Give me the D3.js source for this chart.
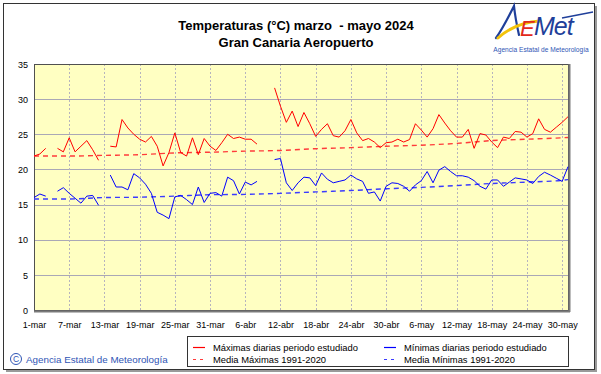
<!DOCTYPE html>
<html><head><meta charset="utf-8">
<script src="https://cdn.jsdelivr.net/npm/d3@7"></script>
<style>
html,body{margin:0;padding:0;background:#fff;}
svg{display:block;font-family:Arial,"Liberation Sans",sans-serif;}
</style></head>
<body><svg id="c" width="601" height="374"></svg>
<script>
// ---- data ----
const tickLabels = ["1-mar","7-mar","13-mar","19-mar","25-mar","31-mar","6-abr","12-abr","18-abr","24-abr","30-abr","6-may","12-may","18-may","24-may","30-may"];
const tickDays = [0,6,12,18,24,30,36,42,48,54,60,66,72,78,84,90];
const yTicks = [0,5,10,15,20,25,30,35];
// daily maxima, index 0 = 1-mar ... 91 = 31-may (null = missing)
const maxDaily = [21.9,22.2,23.0,null,23.0,22.5,24.5,22.5,23.3,24.1,22.8,21.3,null,23.3,23.2,27.1,25.9,25.0,24.3,23.9,24.7,23.3,20.5,22.4,25.2,22.4,21.9,24.5,22.1,24.4,
  23.3,22.7,23.8,25.0,24.4,24.6,24.3,24.3,23.6,null,null,31.6,29.0,26.7,28.3,26.1,28.1,26.5,24.7,25.7,26.5,24.8,24.6,25.5,27.1,25.2,24.1,24.4,23.9,23.1,
  23.8,23.9,24.3,23.9,24.25,26.5,25.6,24.6,25.8,27.8,26.6,25.5,24.6,24.6,25.7,23.0,25.1,24.9,23.9,23.1,24.6,24.4,25.4,25.3,24.6,25.1,27.2,25.7,25.3,26.0,26.7,27.5];
const minDaily = [16.0,16.5,16.2,null,16.9,17.4,16.6,15.9,15.2,16.2,16.3,14.9,null,19.2,17.5,17.5,17.1,19.4,18.8,17.9,16.6,13.9,13.5,13.0,16.1,16.3,15.7,15.0,17.5,15.3,
  16.6,16.7,16.2,18.9,18.4,16.5,18.2,17.8,18.3,null,null,21.4,21.55,18.1,17.0,18.1,18.9,18.8,17.7,19.5,18.6,18.1,18.3,18.5,19.2,18.65,18.3,16.6,16.8,15.5,
  17.6,18.1,18.0,17.6,16.9,17.8,18.4,19.7,18.1,19.9,20.4,19.7,19.1,19.1,18.9,18.4,17.6,17.2,18.5,18.5,17.6,18.2,18.8,18.65,18.5,18.0,19.0,19.6,19.2,18.75,18.3,20.4];
// normals 1991-2020 read at these days
const normDays = [0,6,12,18,24,30,36,42,48,54,60,66,72,78,84,90,91];
const normMax = [21.9,21.9,22.0,22.1,22.35,22.45,22.6,22.7,22.95,23.1,23.3,23.45,23.7,24.1,24.3,24.5,24.55];
const normMin = [15.8,15.8,16.0,16.05,16.2,16.4,16.45,16.6,16.8,17.0,17.25,17.45,17.7,18.0,18.2,18.45,18.55];
const title1 = "Temperaturas (°C) marzo  - mayo 2024";
const title2 = "Gran Canaria Aeropuerto";
const legendItems = [
  {label:"Máximas diarias periodo estudiado", color:"#ff0000", dash:null},
  {label:"Mínimas diarias periodo estudiado", color:"#0000ff", dash:null},
  {label:"Media Máximas 1991-2020", color:"#ff3b3b", dash:"3,4"},
  {label:"Media Mínimas 1991-2020", color:"#3b3bff", dash:"3,4"}
];

const svg = d3.select("#c");
// outer frame with shadow
svg.append("rect").attr("x",6).attr("y",6).attr("width",591).attr("height",366).attr("fill","#9a9a9a");
svg.append("rect").attr("x",3.5).attr("y",3.5).attr("width",591).attr("height",366).attr("fill","#fff").attr("stroke","#333");

const L=34,R=568,T=64,B=310;
const x = d3.scaleLinear().domain([0,91]).range([L,R]);
const y = d3.scaleLinear().domain([0,35]).range([B,T]);

// plot background + shadow
svg.append("rect").attr("x",L+1).attr("y",T+1).attr("width",R-L+1).attr("height",B-T+1).attr("fill","#8a8a8a");
svg.append("rect").attr("x",L).attr("y",T).attr("width",R-L).attr("height",B-T).attr("fill","#ffffc2");

// grid
const g = svg.append("g");
g.selectAll(".hg").data(yTicks.filter(v=>v>0&&v<35)).enter().append("line")
  .attr("x1",L).attr("x2",R).attr("y1",d=>Math.round(y(d))+0.5).attr("y2",d=>Math.round(y(d))+0.5)
  .attr("stroke","#aaa8b6").attr("stroke-width",1);
g.selectAll(".vg").data(tickDays.filter(d=>d>0)).enter().append("line")
  .attr("y1",T).attr("y2",B).attr("x1",d=>Math.round(x(d))+0.5).attr("x2",d=>Math.round(x(d))+0.5)
  .attr("stroke","#b6b4be").attr("stroke-width",1).attr("stroke-dasharray","2,2");

// border
svg.append("rect").attr("x",L+0.5).attr("y",T+0.5).attr("width",R-L).attr("height",B-T).attr("fill","none").attr("stroke","#505050");
svg.append("line").attr("x1",L).attr("x2",R+2).attr("y1",B+1.5).attr("y2",B+1.5).attr("stroke","#7a7a7a").attr("stroke-width",2);
svg.append("line").attr("x1",R+1.5).attr("x2",R+1.5).attr("y1",T).attr("y2",B+2).attr("stroke","#7a7a7a").attr("stroke-width",2);

// axes
const xAxis = d3.axisBottom(x).tickValues(tickDays).tickSize(0).tickPadding(0).tickFormat((d,i)=>tickLabels[i]);
const xa = svg.append("g").attr("transform",`translate(0,${B})`).call(xAxis);
xa.select(".domain").remove();
xa.selectAll("text").attr("dy",null).attr("y",18).attr("font-size","9px").attr("font-family","Arial,'Liberation Sans',sans-serif").attr("fill","#000");
const yAxis = d3.axisLeft(y).tickValues(yTicks).tickSize(0).tickPadding(0);
const ya = svg.append("g").attr("transform",`translate(${L-6},0)`).call(yAxis);
ya.select(".domain").remove();
ya.selectAll("text").attr("font-size","9px").attr("font-family","Arial,'Liberation Sans',sans-serif").attr("fill","#000").attr("dy","0.35em");

// lines
const dayLine = d3.line().defined(d=>d!=null).x((d,i)=>x(i)).y(d=>y(d));
const normLine = arr => d3.line().x((d,i)=>x(normDays[i])).y(d=>y(d)).curve(d3.curveMonotoneX)(arr);
svg.append("path").attr("d",normLine(normMax)).attr("fill","none").attr("stroke","#ff3b3b").attr("stroke-width",1.4).attr("stroke-dasharray","5,4");
svg.append("path").attr("d",normLine(normMin)).attr("fill","none").attr("stroke","#3b3bff").attr("stroke-width",1.4).attr("stroke-dasharray","5,4");
svg.append("path").attr("d",dayLine(maxDaily)).attr("fill","none").attr("stroke","#ff0000").attr("stroke-width",1);
svg.append("path").attr("d",dayLine(minDaily)).attr("fill","none").attr("stroke","#0000ff").attr("stroke-width",1);

// title
svg.append("text").attr("x",296).attr("y",30).attr("text-anchor","middle").attr("font-size","13px").attr("font-weight","bold").style("white-space","pre").text(title1);
svg.append("text").attr("x",296).attr("y",47).attr("text-anchor","middle").attr("font-size","13px").attr("font-weight","bold").text(title2);

// legend
svg.append("rect").attr("x",187.5).attr("y",336.5).attr("width",381).attr("height",30).attr("fill","#fff").attr("stroke","#333");
const lg = svg.append("g");
legendItems.forEach((it,i)=>{
  const col = i%2, row = Math.floor(i/2);
  const lx = col===0?193:384, ly = row===0?347:359;
  lg.append("line").attr("x1",lx).attr("x2",lx+12).attr("y1",ly+0.5).attr("y2",ly+0.5).attr("stroke",it.color).attr("stroke-width",1.2).attr("stroke-dasharray",it.dash);
  lg.append("text").attr("x",lx+20).attr("y",ly+3.5).attr("font-size","9.4px").attr("fill","#000").text(it.label);
});

// footer
svg.append("circle").attr("cx",16).attr("cy",359).attr("r",5.5).attr("fill","none").attr("stroke","#2f55b5").attr("stroke-width",1);
svg.append("text").attr("x",16).attr("y",362.3).attr("text-anchor","middle").attr("font-size","8.5px").attr("fill","#2f55b5").text("C");
svg.append("text").attr("x",26).attr("y",363).attr("font-size","9.8px").attr("fill","#2f55b5").text("Agencia Estatal de Meteorología");

// logo
const logo = svg.append("g");
logo.append("path").attr("d","M496,38 C503,28 509,16 514,6 C515,16 517,26 519,35").attr("fill","none").attr("stroke","#1f3f9a").attr("stroke-width",2.2).attr("stroke-linecap","round");
logo.append("path").attr("d","M498,38 C510,27 525,22 540,21").attr("fill","none").attr("stroke","#f3c30b").attr("stroke-width",3).attr("stroke-linecap","round");
logo.append("text").attr("x",520).attr("y",36).attr("font-size","22px").attr("font-style","italic").attr("fill","#e2291b").text("E");
logo.append("text").attr("x",534).attr("y",35).attr("font-size","25px").attr("font-style","italic").attr("fill","#1f3f9a").attr("letter-spacing","-1").text("Met");
logo.append("line").attr("x1",562).attr("x2",593).attr("y1",18).attr("y2",12).attr("stroke","#1f3f9a").attr("stroke-width",1.5);
logo.append("text").attr("x",541).attr("y",52).attr("text-anchor","middle").attr("font-size","6.6px").attr("fill","#2f55b5").text("Agencia Estatal de Meteorología");
</script></body></html>
